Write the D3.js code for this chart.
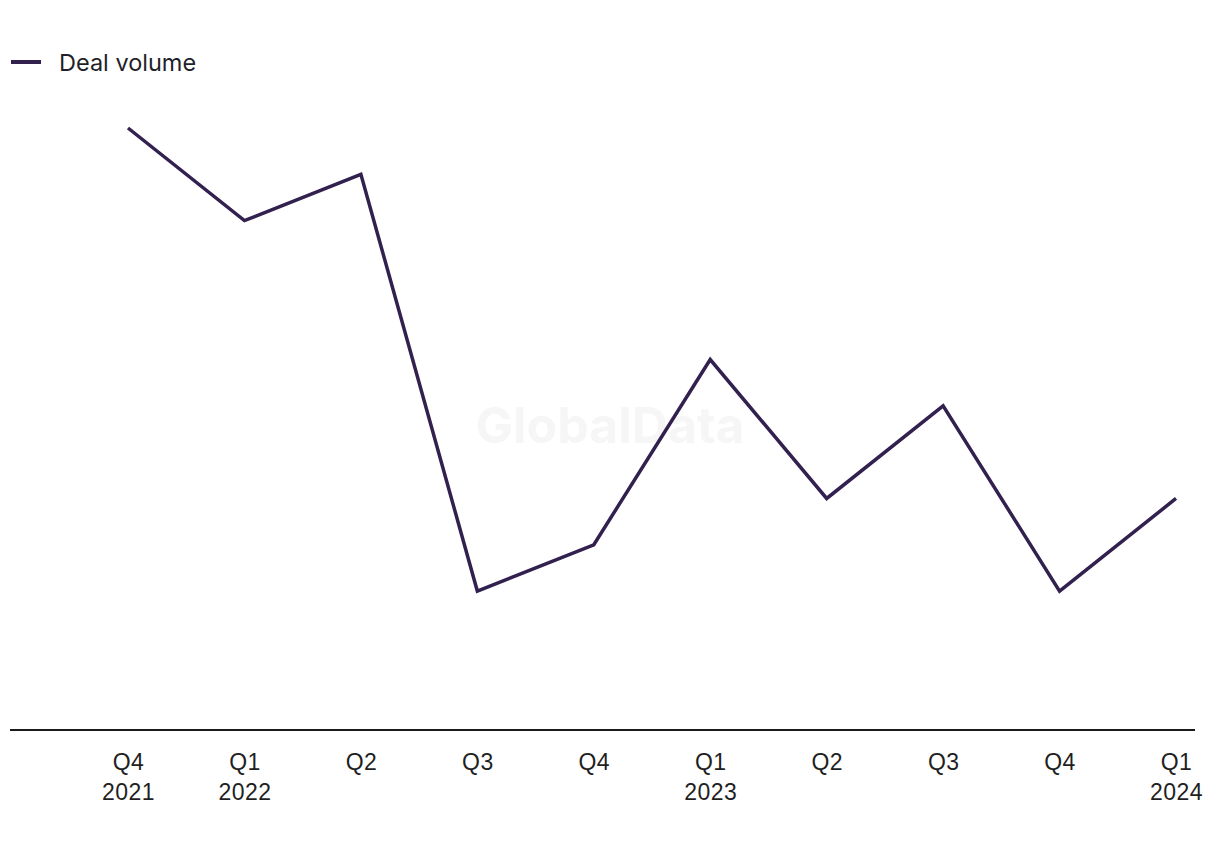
<!DOCTYPE html>
<html>
<head>
<meta charset="utf-8">
<script src="https://cdn.jsdelivr.net/npm/d3@7"></script>
<style>
  html, body { margin: 0; padding: 0; background: #fff; }
  svg { display: block; font-family: Inter, "Liberation Sans", sans-serif; }
</style>
</head>
<body>
<svg id="chart" width="1220" height="850"></svg>
<script>
const quarters = ["Q4", "Q1", "Q2", "Q3", "Q4", "Q1", "Q2", "Q3", "Q4", "Q1"];
const years = ["2021", "2022", "", "", "", "2023", "", "", "", "2024"];
const categories = quarters.map((q, i) => q + " " + (years[i] || i));
const dealVolume = [13, 11, 12, 3, 4, 8, 5, 7, 3, 5];
const seriesName = "Deal volume";

const svg = d3.select("#chart");
const lineColor = "#32204f";

const x = d3.scalePoint().domain(categories).range([128, 1176]);
const y = d3.scaleLinear().domain([0, 13]).range([730, 128]);

// watermark
svg.append("text")
  .attr("x", 610).attr("y", 443)
  .attr("text-anchor", "middle")
  .attr("font-size", 50)
  .attr("font-weight", 700)
  .attr("fill", "#f6f6f6")
  .text("GlobalData");

// baseline axis
const axis = d3.axisBottom(x).tickSize(0).tickFormat("");
const gAxis = svg.append("g").attr("transform", `translate(0,${y(0)})`).call(axis);
gAxis.select(".domain").remove();
gAxis.append("line")
  .attr("x1", 10).attr("x2", 1195)
  .attr("y1", 0).attr("y2", 0)
  .attr("stroke", "#1a1a1a").attr("stroke-width", 2);

gAxis.selectAll(".tick").each(function(d, i) {
  const t = d3.select(this).append("text")
    .attr("fill", "#1f1f1f")
    .attr("font-size", 23)
    .attr("letter-spacing", 0.4)
    .attr("text-anchor", "middle");
  t.append("tspan").attr("x", 0).attr("y", 40).text(quarters[i]);
  if (years[i]) t.append("tspan").attr("x", 0).attr("y", 70).text(years[i]);
});

// line
const line = d3.line()
  .x((d, i) => x(categories[i]))
  .y(d => y(d));
svg.append("path")
  .datum(dealVolume)
  .attr("fill", "none")
  .attr("stroke", lineColor)
  .attr("stroke-width", 3.5)
  .attr("stroke-linejoin", "miter")
  .attr("d", line);

// legend
svg.append("line")
  .attr("x1", 11).attr("x2", 41).attr("y1", 62).attr("y2", 62)
  .attr("stroke", lineColor).attr("stroke-width", 4);
svg.append("text")
  .attr("x", 59).attr("y", 71)
  .attr("font-size", 23.5)
  .attr("fill", "#1f1f2a")
  .text(seriesName);
</script>
</body>
</html>
